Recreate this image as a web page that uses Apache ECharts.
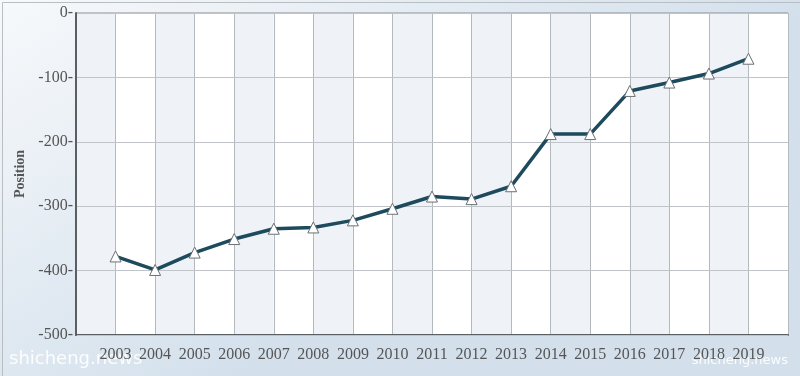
<!DOCTYPE html>
<html>
<head>
<meta charset="utf-8">
<script src="https://cdn.jsdelivr.net/npm/echarts@6/dist/echarts.min.js"></script>
<style>
  html, body { margin: 0; padding: 0; }
  #main { width: 800px; height: 376px; }
</style>
</head>
<body>
<div id="main"></div>
<script>
// years and position values
let years = [2003, 2004, 2005, 2006, 2007, 2008, 2009, 2010, 2011, 2012, 2013, 2014, 2015, 2016, 2017, 2018, 2019];
let positions = [-378, -399, -372, -351, -335, -333, -322, -304, -285, -289, -269, -188, -188, -121, -108, -94, -71];
let yTicks = [0, -100, -200, -300, -400, -500];

let chart = echarts.init(document.getElementById('main'));

let option = {
    backgroundColor: {
        type: 'linear', x: 0, y: 0, x2: 0.3, y2: 1,
        colorStops: [{offset: 0, color: '#f7f9fb'}, {offset: 1, color: '#d3e0ec'}]
    },
    animation: false,
    grid: {
        left: 76, right: 12, top: 13, bottom: 41,
        show: true,
        borderColor: '#8a8f94',
        borderWidth: 1,
        backgroundColor: '#ffffff'
    },
    xAxis: {
        type: 'value',
        z: 0,
        min: 2002,
        max: 2020,
        interval: 1,
        axisLine: { show: true, onZero: false, lineStyle: { color: '#5a5f64', width: 2 } },
        axisTick: { show: false },
        axisLabel: {
            color: '#555',
            fontFamily: 'Liberation Serif',
            fontSize: 16,
            margin: 12,
            formatter: function (v) {
                return years.indexOf(v) >= 0 ? String(v) : '';
            }
        },
        splitLine: { show: true, lineStyle: { color: '#b4b9be', width: 1 } },
        splitArea: { show: true, areaStyle: { color: ['#eff3f7', '#ffffff'] } }
    },
    yAxis: {
        type: 'value',
        z: 2,
        min: -500,
        max: 0,
        interval: 100,
        name: 'Position',
        nameLocation: 'middle',
        nameGap: 42,
        nameTextStyle: { color: '#555', fontFamily: 'Liberation Serif', fontSize: 14, fontWeight: 'bold' },
        axisLine: { show: true, lineStyle: { color: '#5a5f64', width: 2 } },
        axisTick: { show: false },
        axisLabel: {
            color: '#555',
            fontFamily: 'Liberation Serif',
            fontSize: 16,
            margin: 3,
            formatter: function (v) {
                return yTicks.indexOf(v) >= 0 ? v + '-' : '';
            }
        },
        splitLine: { show: true, lineStyle: { color: '#c0c4c8', width: 1 } }
    },
    series: [
        {
            type: 'line',
            z: 3,
            data: years.map(function (y, i) { return [y, positions[i]]; }),
            symbol: 'triangle',
            symbolSize: 11,
            lineStyle: { color: '#1d4a5c', width: 3.5 },
            itemStyle: { color: '#ffffff', borderColor: '#6a7075', borderWidth: 1 }
        }
    ],
    graphic: [
        {
            type: 'text', left: 9, top: 350,
            style: { text: 'shicheng.news', fill: 'rgba(255,255,255,0.9)', font: '18px "DejaVu Sans"' }
        },
        {
            type: 'text', right: 12, top: 354,
            style: { text: 'shicheng.news', fill: 'rgba(255,255,255,0.9)', font: '13px "DejaVu Sans"' }
        },
        {
            type: 'rect', left: 0, top: 0,
            shape: { width: 799, height: 375 },
            style: { fill: 'none', stroke: '#b9bec3', lineWidth: 1 }
        }
    ]
};

chart.setOption(option);
</script>
</body>
</html>
